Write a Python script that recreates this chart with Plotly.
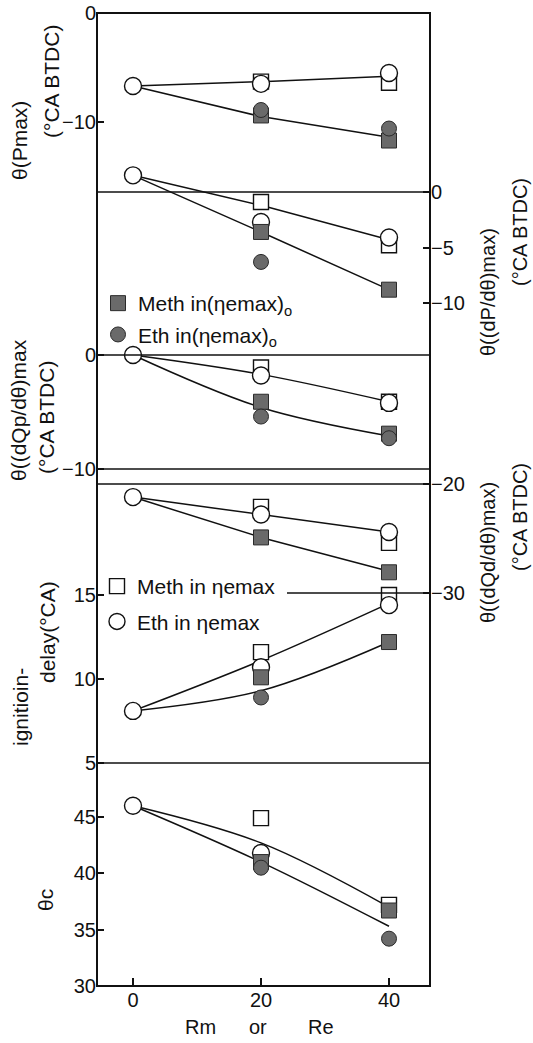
import plotly.graph_objects as go

# ---- data -------------------------------------------------------------
rate = [0, 20, 40]  # Rm or Re (%)

# theta(Pmax)
pmax_eth = [-6.7, -6.5, -5.5]
pmax_meth = [None, -6.3, -6.4]
pmax_meth0 = [None, -9.4, -11.7]
pmax_eth0 = [None, -8.9, -10.6]
pmax_fit_hi = [-6.7, -6.3, -5.8]
pmax_fit_lo = [-6.7, -9.5, -11.4]

# theta((dP/dtheta)max)
dp_eth = [1.5, -2.7, -4.1]
dp_meth = [None, -0.9, -4.8]
dp_meth0 = [None, -3.6, -8.8]
dp_eth0 = [None, -6.3, None]
dp_fit_hi = [1.5, -1.2, -4.3]
dp_fit_lo = [1.5, -3.6, -8.8]

# theta((dQp/dtheta)max)
qp_eth = [0.0, -1.8, -4.2]
qp_meth = [None, -1.1, -4.1]
qp_meth0 = [None, -4.1, -6.9]
qp_eth0 = [None, -5.4, -7.3]
qp_fit_hi = [0.0, -1.7, -4.1]
qp_fit_lo = [0.0, -4.6, -7.1]

# theta((dQd/dtheta)max)
qd_eth = [-21.2, -22.8, -24.4]
qd_meth = [None, -22.1, -25.4]
qd_meth0 = [None, -24.9, -28.1]
qd_eth0 = [None, None, None]
qd_fit_hi = [-21.2, -22.8, -24.4]
qd_fit_lo = [-21.2, -24.9, -28.0]

# ignition delay
ig_eth = [8.1, 10.7, 14.4]
ig_meth = [None, 11.6, 15.0]
ig_meth0 = [None, 10.1, 12.2]
ig_eth0 = [None, 8.9, None]
ig_fit_hi = [8.1, 11.1, 14.5]
ig_fit_lo = [8.1, 9.3, 12.2]

# theta c
tc_eth = [46.0, 41.8, None]
tc_meth = [None, 44.9, 37.2]
tc_meth0 = [None, 41.0, 36.7]
tc_eth0 = [None, 40.5, 34.2]
tc_fit_hi = [46.0, 42.7, 37.0]
tc_fit_lo = [46.0, 41.0, 35.3]

x_ticks = [0, 20, 40]

# ---- page geometry (pixels) -------------------------------------------
W, H = 533, 1043
L, R, T, B = 97, 430, 13, 986


def py(y):
    return (B - y) / (B - T)


def px(x):
    return (x - L) / (R - L)


def span(a, ya, b, yb, top, bot):
    """Axis range so that value a sits at pixel ya and b at yb, over [top, bot]."""
    k = (b - a) / (yb - ya)
    return [a + k * (bot - ya), a + k * (top - ya)]


FONT = "Liberation Sans"
INK = "#111111"
GREY = "#6a6a6a"

panels = [
    # key, data, fits, axis side, pixel calibration, domain, ticks, spline
    ("y", (pmax_meth, pmax_eth, pmax_meth0, pmax_eth0), (pmax_fit_hi, pmax_fit_lo),
     "left", (0, 13, -10, 122), (13, 198), [0, -10], False),
    ("y2", (dp_meth, dp_eth, dp_meth0, dp_eth0), (dp_fit_hi, dp_fit_lo),
     "right", (0, 192, -10, 303), (150, 360), [0, -5, -10], False),
    ("y3", (qp_meth, qp_eth, qp_meth0, qp_eth0), (qp_fit_hi, qp_fit_lo),
     "left", (0, 355, -10, 469), (335, 476), [0, -10], True),
    ("y4", (qd_meth, qd_eth, qd_meth0, qd_eth0), (qd_fit_hi, qd_fit_lo),
     "right", (-20, 484, -30, 593), (478, 600), [-20, -30], False),
    ("y5", (ig_meth, ig_eth, ig_meth0, ig_eth0), (ig_fit_hi, ig_fit_lo),
     "left", (15, 595, 5, 763), (560, 770), [5, 10, 15], True),
    ("y6", (tc_meth, tc_eth, tc_meth0, tc_eth0), (tc_fit_hi, tc_fit_lo),
     "left", (30, 986, 45, 817), (756, 986), [30, 35, 40, 45], True),
]

series_style = [
    # name, legend, symbol, size, fill, outline, outline width
    ("Meth in ηemax", "legend2", "square", 15, "white", INK, 1.4),
    ("Eth in ηemax", "legend2", "circle", 17, "white", INK, 1.4),
    ("Meth in(ηemax)<sub>o</sub>", "legend", "square", 15, GREY, "#2a2a2a", 1.0),
    ("Eth in(ηemax)<sub>o</sub>", "legend", "circle", 15, GREY, "#2a2a2a", 1.0),
]

fig = go.Figure()
layout_axes = {}

for i, (key, data, fits, side, cal, dom, ticks, smooth) in enumerate(panels):
    axname = "yaxis" if key == "y" else "yaxis" + key[1:]
    a, ya, b, yb = cal
    layout_axes[axname] = dict(
        domain=[py(dom[1]), py(dom[0])],
        range=span(a, ya, b, yb, dom[0], dom[1]),
        side=side,
        anchor="x",
        tickvals=ticks,
        ticks="inside",
        ticklen=7,
        tickwidth=1.5,
        tickcolor=INK,
        showline=False,
        showgrid=False,
        zeroline=False,
        automargin=False,
        tickfont=dict(family=FONT, size=20, color=INK),
    )
    for fit in fits:
        fig.add_trace(go.Scatter(
            x=rate, y=fit, xaxis="x", yaxis=key, mode="lines",
            line=dict(color=INK, width=1.5, shape="spline" if smooth else "linear"),
            showlegend=False, hoverinfo="skip"))
    for j, vals in enumerate(data):
        name, leg, sym, size, fill, edge, lw = series_style[j]
        fig.add_trace(go.Scatter(
            x=rate, y=vals, xaxis="x", yaxis=key, mode="markers",
            name=name, legend=leg, legendgroup=name, showlegend=(i == 0),
            marker=dict(symbol=sym, size=size, color=fill,
                        line=dict(color=edge, width=lw))))

# panel separators along axis values
separators = [("y2", 0, 0.0), ("y3", 0, 0.0), ("y3", -10, 0.0), ("y4", -20, 0.0),
              ("y4", -30, px(287)), ("y5", 5, 0.0)]
shapes = [dict(type="line", xref="paper", yref=ref, x0=x0, x1=1, y0=v, y1=v,
               line=dict(color=INK, width=1.6)) for ref, v, x0 in separators]
shapes.append(dict(type="rect", xref="paper", yref="paper", x0=0, x1=1, y0=0, y1=1,
                   line=dict(color=INK, width=2)))

titles = [
    # text, centre x, centre y, font size
    ("θ(Pmax)", 20, 141, 21), ("(°CA BTDC)", 51, 82, 21),
    ("θ((dP/dθ)max)", 488, 292, 20), ("(°CA BTDC)", 520, 232, 20),
    ("θ((dQp/dθ)max", 18, 410, 21), ("(°CA BTDC)", 46, 418, 21),
    ("θ((dQd/dθ)max)", 488, 553, 20), ("(°CA BTDC)", 520, 517, 20),
    ("ignitioin-", 20, 707, 21), ("delay(°CA)", 47, 632, 21),
    ("θc", 45, 900, 21),
]
annotations = [dict(text=t, x=px(cx), y=py(cy), xref="paper", yref="paper",
                    textangle=-90, showarrow=False,
                    font=dict(family=FONT, size=fs, color=INK),
                    xanchor="center", yanchor="middle") for t, cx, cy, fs in titles]
for word, cx in [("Rm", 200), ("or", 258), ("Re", 321)]:
    annotations.append(dict(text=word, x=px(cx), y=py(1027), xref="paper", yref="paper",
                            showarrow=False, font=dict(family=FONT, size=20, color=INK),
                            xanchor="center", yanchor="middle"))

fig.update_layout(
    width=W, height=H,
    margin=dict(l=L, r=W - R, t=T, b=H - B, autoexpand=False),
    paper_bgcolor="white", plot_bgcolor="rgba(0,0,0,0)",
    font=dict(family=FONT, color=INK),
    xaxis=dict(
        domain=[0, 1], anchor="y6",
        range=[(L - 133) / 6.4, (R - 133) / 6.4],
        tickvals=x_ticks, ticks="inside", ticklen=8, tickwidth=1.5, tickcolor=INK,
        showline=False, showgrid=False, zeroline=False, automargin=False,
        tickfont=dict(family=FONT, size=20, color=INK),
    ),
    legend=dict(x=px(98), y=py(283), xanchor="left", yanchor="top",
                bgcolor="rgba(0,0,0,0)", tracegroupgap=1,
                font=dict(family=FONT, size=21, color=INK)),
    legend2=dict(x=px(97), y=py(566), xanchor="left", yanchor="top",
                 bgcolor="rgba(0,0,0,0)", tracegroupgap=5,
                 font=dict(family=FONT, size=21, color=INK)),
    shapes=shapes,
    annotations=annotations,
    showlegend=True,
    **layout_axes,
)

fig.write_html("out.html")
